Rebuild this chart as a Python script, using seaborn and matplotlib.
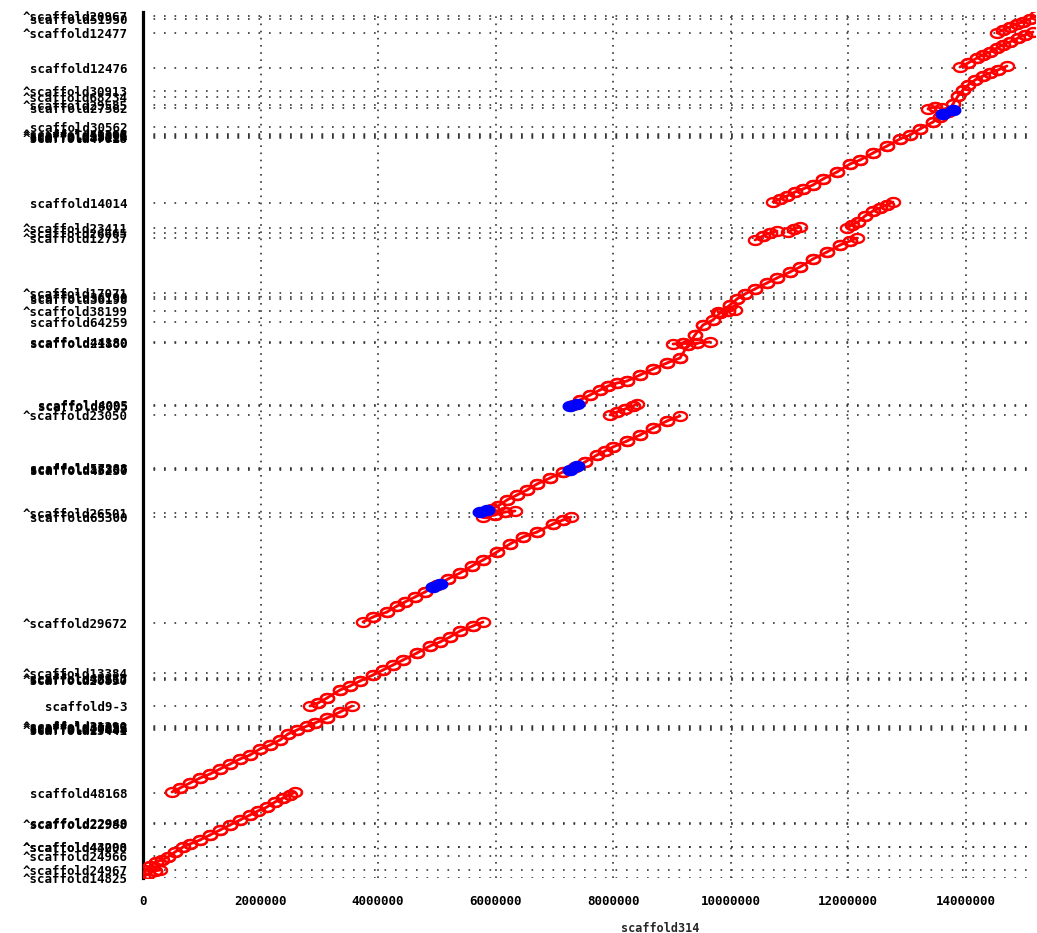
import numpy as np
import pandas as pd
import matplotlib
matplotlib.use("Agg")
import matplotlib.pyplot as plt
import seaborn as sns
from matplotlib.path import Path

# ---------------- data (kb) ----------------
# forward alignments (red): chains of alignment end points, x = scaffold314, y = query (stacked)
band_a_x = [0, 85, 204, 289]
band_a_y = [34, 136, 238, 272]

band1_x = [34, 119, 221, 323, 426, 545, 681, 800, 970, 1140, 1311, 1481, 1651, 1821, 1957, 2110, 2247, 2383, 2502, 2587]
band1_y = [272, 408, 544, 612, 714, 884, 1054, 1156, 1292, 1462, 1632, 1802, 1972, 2142, 2278, 2414, 2584, 2720, 2822, 2924]

band2_x = [494, 630, 800, 970, 1140, 1311, 1481, 1651, 1821, 1991, 2162, 2332, 2468, 2621, 2791, 2927, 3132, 3353, 3557]
band2_y = [2924, 3060, 3230, 3400, 3536, 3706, 3876, 4046, 4182, 4386, 4522, 4692, 4896, 5032, 5168, 5270, 5440, 5644, 5848]

band3_x = [2842, 2979, 3132, 3353, 3523, 3693, 3915, 4085, 4255, 4425, 4663, 4885, 5055, 5225, 5395, 5617, 5787]
band3_y = [5848, 5950, 6120, 6392, 6528, 6698, 6902, 7072, 7242, 7412, 7650, 7888, 8024, 8194, 8398, 8568, 8704]

band4_x = [3744, 3915, 4153, 4323, 4459, 4629, 4800, 5004, 5191, 5395, 5600, 5787, 6025, 6246, 6468, 6706, 6978, 7148, 7285]
band4_y = [8704, 8874, 9044, 9248, 9384, 9554, 9724, 9962, 10166, 10370, 10608, 10812, 11084, 11356, 11594, 11764, 12036, 12172, 12274]

band5_x = [5821, 5940, 6042, 6195, 6365, 6536, 6706, 6927, 7148, 7353, 7523, 7727, 7863, 7999, 8238, 8459, 8680, 8918, 9140]
band5_y = [12410, 12546, 12648, 12852, 13022, 13192, 13396, 13600, 13804, 13974, 14144, 14382, 14518, 14654, 14858, 15062, 15300, 15538, 15708]

band5b_x = [5787, 5991, 6161, 6331]
band5b_y = [12274, 12342, 12444, 12478]

band5c_x = [7948, 8068, 8204, 8340, 8408]
band5c_y = [15742, 15844, 15946, 16048, 16116]

band6_x = [7319, 7438, 7608, 7778, 7914, 8068, 8238, 8459, 8680, 8918, 9140, 9276, 9395, 9531, 9701, 9821, 9991, 10110,
           10246, 10416, 10620, 10791, 11012, 11182, 11403, 11642, 11863, 12033, 12152]
band6_y = [16082, 16252, 16422, 16592, 16728, 16830, 16898, 17102, 17306, 17510, 17680, 18122, 18462, 18802, 18972, 19210,
           19482, 19686, 19856, 20026, 20230, 20400, 20604, 20774, 21046, 21284, 21522, 21658, 21760]

band6b_x = [9021, 9191, 9429, 9650]
band6b_y = [18156, 18190, 18190, 18224]

band6c_x = [9787, 9957, 10076]
band6c_y = [19244, 19278, 19312]

band6d_x = [10416, 10552, 10672, 10791]
band6d_y = [21692, 21828, 21930, 21998]

band6e_x = [10978, 11080, 11182]
band6e_y = [21964, 22066, 22134]

band6f_x = [11982, 12067, 12170, 12288, 12425, 12544, 12663, 12765]
band6f_y = [22100, 22202, 22304, 22508, 22678, 22780, 22882, 22984]

band7_x = [10723, 10842, 10961, 11097, 11233, 11403, 11574, 11812, 12033, 12204, 12425, 12663, 12884, 13054, 13225, 13446,
           13565, 13701, 13786, 13871, 13956, 14042, 14161, 14297, 14416, 14553, 14705]
band7_y = [22984, 23086, 23188, 23324, 23426, 23562, 23766, 24004, 24276, 24412, 24650, 24888, 25126, 25262, 25466, 25704,
           25874, 26044, 26316, 26588, 26792, 26962, 27132, 27268, 27370, 27472, 27608]

band7b_x = [13361, 13480, 13599]
band7b_y = [26146, 26214, 26180]

band9_x = [13905, 14042, 14195, 14297, 14416, 14535, 14637, 14756, 14893, 15012, 15148]
band9_y = [27574, 27710, 27880, 27982, 28084, 28220, 28322, 28424, 28560, 28662, 28764]

band10_x = [14535, 14637, 14756, 14876, 14978, 15097, 15216]
band10_y = [28730, 28832, 28934, 29036, 29104, 29206, 29342]

# reverse alignments (blue)
rev1_x = [4936, 5055]
rev1_y = [9894, 9996]
rev2_x = [5736, 5855]
rev2_y = [12444, 12512]
rev3_x = [7268, 7387]
rev3_y = [13872, 14008]
rev4_x = [7268, 7387]
rev4_y = [16048, 16116]
rev5_x = [13616, 13786]
rev5_y = [25976, 26112]

# y tick labels (query scaffold starts, kb)
ytick_labels = ["^scaffold14825", "^scaffold24967", "^scaffold24966", "^scaffold43090", "^scaffold44208",
                "^scaffold22988", "scaffold22940", "scaffold48168",
                "^scaffold15441", "scaffold27684", "^scaffold40035", "scaffold35953", "^scaffold31290",
                "scaffold9-3", "^scaffold20850", "scaffold33617", "^scaffold42185", "^scaffold13384",
                "^scaffold29672", "scaffold65300", "^scaffold26501",
                "scaffold45230", "scaffold18307", "scaffold57288",
                "^scaffold23050", "scaffold8005", "scaffold4095",
                "scaffold21880", "scaffold44180", "scaffold64259", "^scaffold38199",
                "scaffold36198", "scaffold36190", "^scaffold17071",
                "^scaffold12737", "^scaffold26665", "^scaffold23411", "scaffold14014",
                "^scaffold47018", "scaffold39114", "^scaffold15810", "scaffold52003", "^scaffold41166",
                "scaffold30562", "scaffold27582", "^scaffold29585", "^scaffold68234", "^scaffold30913",
                "scaffold12476", "^scaffold12477", "scaffold51950", "^scaffold20967"]
ytick_kb = [0, 272, 748, 1040, 1070,
            1836, 1860, 2890,
            5030, 5070, 5100, 5130, 5170,
            5848, 6732, 6766, 6800, 6970,
            8670, 12274, 12410,
            13880, 13906, 13940,
            15742, 16060, 16082,
            18190, 18210, 18904, 19278,
            19700, 19754, 19890,
            21760, 21930, 22100, 22950,
            25160, 25195, 25228, 25260, 25295,
            25534, 26180, 26282, 26554, 26758,
            27540, 28730, 29206, 29308]

xtick_values = [0, 2000000, 4000000, 6000000, 8000000, 10000000, 12000000, 14000000]
x_label = "scaffold314"

# ---------------- assemble ----------------
fwd = [(band_a_x, band_a_y), (band1_x, band1_y), (band2_x, band2_y), (band3_x, band3_y), (band4_x, band4_y),
       (band5_x, band5_y), (band5b_x, band5b_y), (band5c_x, band5c_y), (band6_x, band6_y), (band6b_x, band6b_y),
       (band6c_x, band6c_y), (band6d_x, band6d_y), (band6e_x, band6e_y), (band6f_x, band6f_y),
       (band7_x, band7_y), (band7b_x, band7b_y), (band9_x, band9_y), (band10_x, band10_y)]
rev = [(rev1_x, rev1_y), (rev2_x, rev2_y), (rev3_x, rev3_y), (rev4_x, rev4_y), (rev5_x, rev5_y)]


def to_frame(chains):
    rows = []
    for i, (xs, ys) in enumerate(chains):
        for j in range(len(xs) - 1):
            rows.append((xs[j] * 1000, ys[j] * 1000, f"{i}_{j}"))
            rows.append((xs[j + 1] * 1000, ys[j + 1] * 1000, f"{i}_{j}"))
    return pd.DataFrame(rows, columns=["x", "y", "seg"])


df_fwd = to_frame(fwd)
df_rev = to_frame(rev)

sns.set_style("white")
plt.rcParams["font.family"] = ["DejaVu Sans Mono"]
plt.rcParams["font.weight"] = "bold"

W, H = 1037, 933
fig = plt.figure(figsize=(W / 100, H / 100), dpi=100)
ax = fig.add_axes([143 / W, 1 - 878 / H, (1035 - 143) / W, (878 - 12) / H])

t = np.linspace(0, 2 * np.pi, 41)
ell = Path(np.column_stack([np.cos(t), 0.68 * np.sin(t)]))

sns.lineplot(data=df_fwd, x="x", y="y", units="seg", estimator=None, sort=False, ax=ax,
             color="red", lw=2.0, marker=ell, markersize=9.5, markerfacecolor="none",
             markeredgecolor="red", markeredgewidth=1.7, legend=False, zorder=3)
sns.lineplot(data=df_rev, x="x", y="y", units="seg", estimator=None, sort=False, ax=ax,
             color="blue", lw=2.0, marker=ell, markersize=10, markerfacecolor="blue",
             markeredgecolor="blue", markeredgewidth=1.5, legend=False, zorder=4)

ax.set_xlim(0, 15182000)
ax.set_ylim(0, 29444000)
ax.set_xticks(xtick_values)
ax.set_xticklabels([str(v) for v in xtick_values])
ax.set_yticks([v * 1000 for v in ytick_kb])
ax.set_yticklabels(ytick_labels)
ax.tick_params(axis="both", length=0, labelsize=9, colors="black")
ax.tick_params(axis="x", pad=12)
ax.tick_params(axis="y", pad=11)
for lab in ax.get_xticklabels() + ax.get_yticklabels():
    lab.set_fontweight("bold")

ax.set_xlabel("")
ax.set_ylabel("")
ax.yaxis.grid(True, linestyle=(0, (1, 5.3)), color="#333333", lw=1.2)
ax.xaxis.grid(True, linestyle=(0, (1, 3.3)), color="#333333", lw=1.2)
ax.set_axisbelow(True)

for s in ["top", "right", "bottom"]:
    ax.spines[s].set_visible(False)
ax.spines["left"].set_linewidth(2.3)
ax.spines["left"].set_color("black")

fig.text(660 / W, 1 - 928 / H, x_label, ha="center", va="center", fontsize=8.5, fontweight="bold",
         family="DejaVu Sans Mono")

fig.savefig("out.png", dpi=100)
